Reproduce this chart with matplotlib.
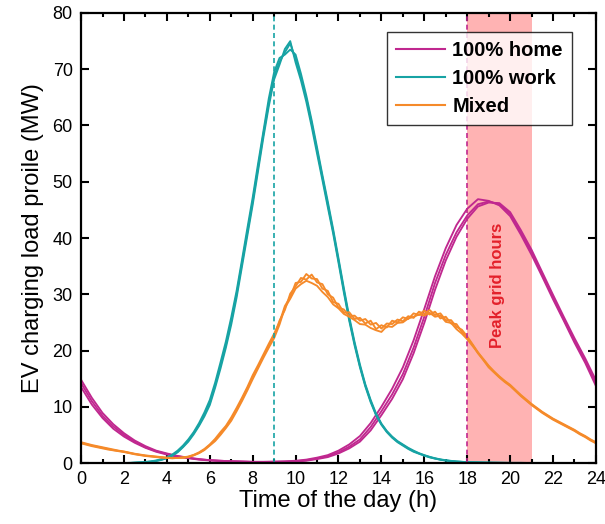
import numpy as np
import matplotlib
matplotlib.use("Agg")
import matplotlib.pyplot as plt
from matplotlib.ticker import MultipleLocator

plt.rcParams['font.family'] = ['Liberation Sans', 'DejaVu Sans']

# time grids (h)
hours_half = np.arange(0, 24.01, 0.5)
hours_quarter = np.arange(0, 24.01, 0.25)

# 100% home charging, 3 simulation runs (MW, every 0.5 h)
home_runs = [
    [14.2, 11.0, 8.4, 6.5, 5.0, 3.8, 2.8, 2.1, 1.6, 1.2, 0.9, 0.65, 0.5, 0.4, 0.3, 0.25, 0.2, 0.2,
     0.2, 0.25, 0.3, 0.5, 0.8, 1.2, 1.9, 2.9, 4.2, 6.4, 9.2, 12.2, 15.8, 20.5, 26.0, 32.0, 37.0,
     41.0, 44.0, 46.0, 46.5, 46.0, 44.3, 41.0, 37.5, 33.5, 29.5, 25.6, 21.8, 18.2, 14.2],
    [13.5, 10.4, 8.0, 6.1, 4.7, 3.6, 2.7, 2.0, 1.5, 1.1, 0.85, 0.6, 0.45, 0.35, 0.3, 0.25, 0.2, 0.2,
     0.25, 0.3, 0.4, 0.6, 0.95, 1.4, 2.2, 3.3, 4.8, 7.1, 10.0, 13.2, 17.0, 21.8, 27.4, 33.2, 38.2,
     42.3, 45.2, 46.9, 46.6, 45.8, 43.9, 40.6, 37.0, 33.1, 29.1, 25.3, 21.4, 17.8, 13.7],
    [14.8, 11.6, 8.9, 6.9, 5.3, 4.0, 3.0, 2.2, 1.7, 1.25, 0.95, 0.7, 0.5, 0.4, 0.3, 0.25, 0.2, 0.2,
     0.2, 0.2, 0.25, 0.4, 0.7, 1.05, 1.7, 2.6, 3.8, 5.8, 8.5, 11.4, 14.9, 19.5, 24.9, 30.8, 36.0,
     40.2, 43.4, 45.6, 46.3, 46.2, 44.6, 41.4, 37.9, 33.9, 29.9, 26.0, 22.2, 18.6, 14.7],
]

# 100% work charging (every 0.25 h)
work_tail = [0.15, 0.12, 0.1, 0.08, 0.06, 0.05, 0.04, 0.03, 0.02, 0.02, 0.02, 0.01, 0.01,
             0, 0, 0, 0, 0, 0, 0, 0, 0, 0, 0, 0]
work_runs = [
    [0, 0, 0, 0, 0, 0, 0, 0, 0, 0, 0.05, 0.1,
     0.15, 0.25, 0.4, 0.6, 0.9, 1.4, 2.0, 2.9, 4.0, 5.3, 6.8, 8.6,
     10.7, 13.8, 17.3, 21.0, 25.2, 30.0, 35.5, 41.0, 46.5, 52.5, 58.5, 64.0,
     68.8, 71.3, 73.0, 74.6, 71.8, 68.6, 64.8, 60.4, 55.6, 50.8, 46.0, 41.2,
     36.0, 30.7, 25.6, 21.2, 17.2, 13.8, 11.0, 8.6, 6.9, 5.6, 4.6, 3.8,
     3.2, 2.6, 2.1, 1.7, 1.35, 1.05, 0.8, 0.6, 0.45, 0.35, 0.25, 0.2] + work_tail,
    [0, 0, 0, 0, 0, 0, 0, 0, 0, 0.03, 0.07, 0.12,
     0.2, 0.3, 0.45, 0.7, 1.0, 1.5, 2.2, 3.1, 4.2, 5.5, 7.1, 9.0,
     11.2, 14.3, 17.9, 21.6, 25.9, 30.6, 36.1, 41.7, 47.2, 53.2, 59.0, 64.8,
     69.5, 72.0, 72.6, 73.5, 72.6, 69.2, 65.3, 60.9, 56.1, 51.2, 46.5, 41.6,
     36.4, 31.1, 26.0, 21.5, 17.5, 14.0, 11.2, 8.8, 7.0, 5.7, 4.7, 3.9,
     3.3, 2.7, 2.2, 1.75, 1.4, 1.1, 0.85, 0.65, 0.5, 0.38, 0.28, 0.22] + work_tail,
    [0, 0, 0, 0, 0, 0, 0, 0, 0, 0, 0.04, 0.08,
     0.12, 0.2, 0.35, 0.55, 0.85, 1.3, 1.9, 2.8, 3.8, 5.1, 6.6, 8.3,
     10.3, 13.4, 16.8, 20.5, 24.6, 29.4, 34.9, 40.4, 45.9, 51.9, 57.9, 63.4,
     68.2, 70.8, 73.6, 75.0, 71.2, 68.0, 64.2, 59.8, 55.0, 50.3, 45.5, 40.8,
     35.6, 30.3, 25.3, 20.9, 17.0, 13.6, 10.8, 8.5, 6.8, 5.5, 4.5, 3.7,
     3.1, 2.5, 2.0, 1.65, 1.3, 1.0, 0.78, 0.58, 0.44, 0.33, 0.24, 0.19] + work_tail,
]

# mixed home/work charging (every 0.25 h)
mixed_runs = [
    [3.6, 3.35, 3.1, 2.9, 2.7, 2.5, 2.3, 2.15, 2.0, 1.8, 1.6, 1.45, 1.3, 1.2, 1.1, 1.0, 0.9, 0.85,
     0.9, 0.95, 1.1, 1.4, 1.8, 2.4, 3.2, 4.1, 5.2, 6.4, 7.8, 9.5, 11.3, 13.2, 15.2, 17.1, 19.0, 20.8,
     22.6, 25.3, 27.2, 30.1, 31.4, 32.9, 32.6, 33.5, 32.1, 31.8, 30.0, 29.4, 27.6, 27.3, 26.1, 26.2,
     25.3, 25.6, 24.6, 24.9, 23.9, 24.8, 24.7, 25.5, 25.2, 26.1, 25.8, 26.9, 26.5, 27.2, 26.3, 26.6,
     25.4, 25.4, 24.2, 23.7,
     22.5, 21.1, 19.7, 18.4, 17.2, 16.2, 15.3, 14.5, 13.8, 12.9, 12.0, 11.2, 10.4, 9.7, 9.0, 8.4,
     7.8, 7.3, 6.8, 6.3, 5.8, 5.2, 4.7, 4.1, 3.6],
    [3.5, 3.25, 3.0, 2.8, 2.6, 2.4, 2.25, 2.1, 1.95, 1.75, 1.55, 1.4, 1.25, 1.15, 1.05, 0.95, 0.9, 0.85,
     0.9, 1.0, 1.15, 1.45, 1.9, 2.5, 3.3, 4.3, 5.5, 6.6, 8.1, 9.8, 11.6, 13.5, 15.6, 17.4, 19.3, 21.2,
     23.0, 25.0, 27.9, 29.5, 32.0, 32.2, 33.6, 32.8, 32.7, 31.0, 30.6, 28.6, 28.3, 26.7, 26.8, 25.6,
     25.8, 24.8, 25.3, 23.8, 24.5, 24.1, 25.3, 25.0, 25.9, 25.6, 26.6, 26.3, 27.1, 26.4, 26.9, 25.7,
     26.0, 24.8, 24.7, 23.3,
     22.3, 21.0, 19.5, 18.3, 17.0, 16.1, 15.2, 14.4, 13.7, 12.8, 11.9, 11.1, 10.3, 9.6, 8.9, 8.3,
     7.7, 7.2, 6.7, 6.2, 5.7, 5.1, 4.6, 4.0, 3.5],
    [3.7, 3.45, 3.2, 3.0, 2.8, 2.6, 2.4, 2.2, 2.05, 1.85, 1.65, 1.5, 1.35, 1.25, 1.15, 1.05, 0.95, 0.9,
     0.9, 0.95, 1.05, 1.35, 1.75, 2.3, 3.1, 3.9, 5.0, 6.2, 7.5, 9.2, 11.0, 12.9, 14.9, 16.8, 18.7, 20.5,
     22.2, 24.6, 27.6, 29.2, 31.0, 31.8, 32.4, 32.0, 31.5, 30.4, 29.5, 28.2, 27.5, 26.5, 26.0, 25.4,
     24.7, 24.6, 24.0, 23.6, 23.3, 24.3, 24.2, 24.9, 25.0, 25.7, 26.0, 26.4, 26.2, 26.7, 26.0, 26.2,
     25.1, 24.9, 23.8, 23.0,
     22.0, 20.8, 19.6, 18.5, 17.3, 16.3, 15.4, 14.6, 13.9, 13.0, 12.1, 11.3, 10.5, 9.8, 9.1, 8.5,
     7.9, 7.4, 6.9, 6.4, 5.9, 5.3, 4.8, 4.2, 3.7],
]

work_start = 9    # typical arrival at work
home_start = 18   # typical arrival at home
peak_hours = (18, 21)

c_home = '#c0288f'
c_work = '#17a3a4'
c_mixed = '#f58a2a'

fig = plt.figure(figsize=(6.05, 5.24), dpi=100)
ax = fig.add_axes([0.134, 0.1164, 0.851, 0.8588])

ax.axvspan(peak_hours[0], peak_hours[1], color='#ffb3b3', lw=0, zorder=0)
ax.text(sum(peak_hours) / 2 - 0.1, 31.5, 'Peak grid hours', rotation=90, color='#e3202a',
        fontsize=12, fontweight='bold', ha='center', va='center')

scenarios = [(hours_half, home_runs, c_home, '100% home'),
             (hours_quarter, work_runs, c_work, '100% work'),
             (hours_quarter, mixed_runs, c_mixed, 'Mixed')]
for t, runs, col, name in scenarios:
    for i, run in enumerate(runs):
        ax.plot(t, run, color=col, lw=1.35, label=name if i == 0 else None)

ax.axvline(work_start, color=c_work, lw=1.2, ls=(0, (3, 2)))
ax.axvline(home_start, color=c_home, lw=1.2, ls=(0, (3, 2)))

ax.set_xlim(0, 24)
ax.set_ylim(0, 80)
ax.xaxis.set_major_locator(MultipleLocator(2))
ax.xaxis.set_minor_locator(MultipleLocator(1))
ax.yaxis.set_major_locator(MultipleLocator(10))
ax.tick_params(which='both', direction='in', top=True, right=True, width=1.5, labelsize=13, pad=6)
ax.tick_params(which='major', length=5.5)
ax.tick_params(which='minor', length=3)
for s in ax.spines.values():
    s.set_linewidth(1.6)

ax.set_xlabel('Time of the day (h)', fontsize=17, labelpad=1)
ax.set_ylabel('EV charging load proile (MW)', fontsize=17, labelpad=6)

leg = ax.legend(loc='upper right', bbox_to_anchor=(0.953, 0.958), borderaxespad=0,
                prop={'weight': 'bold', 'size': 14.5}, frameon=True, fancybox=False,
                handlelength=2.45, handletextpad=0.35, labelspacing=0.45, borderpad=0.45)
leg.get_frame().set_edgecolor('black')
leg.get_frame().set_linewidth(1.0)
for line in leg.get_lines():
    line.set_linewidth(1.5)

plt.savefig('out.png', dpi=100)
